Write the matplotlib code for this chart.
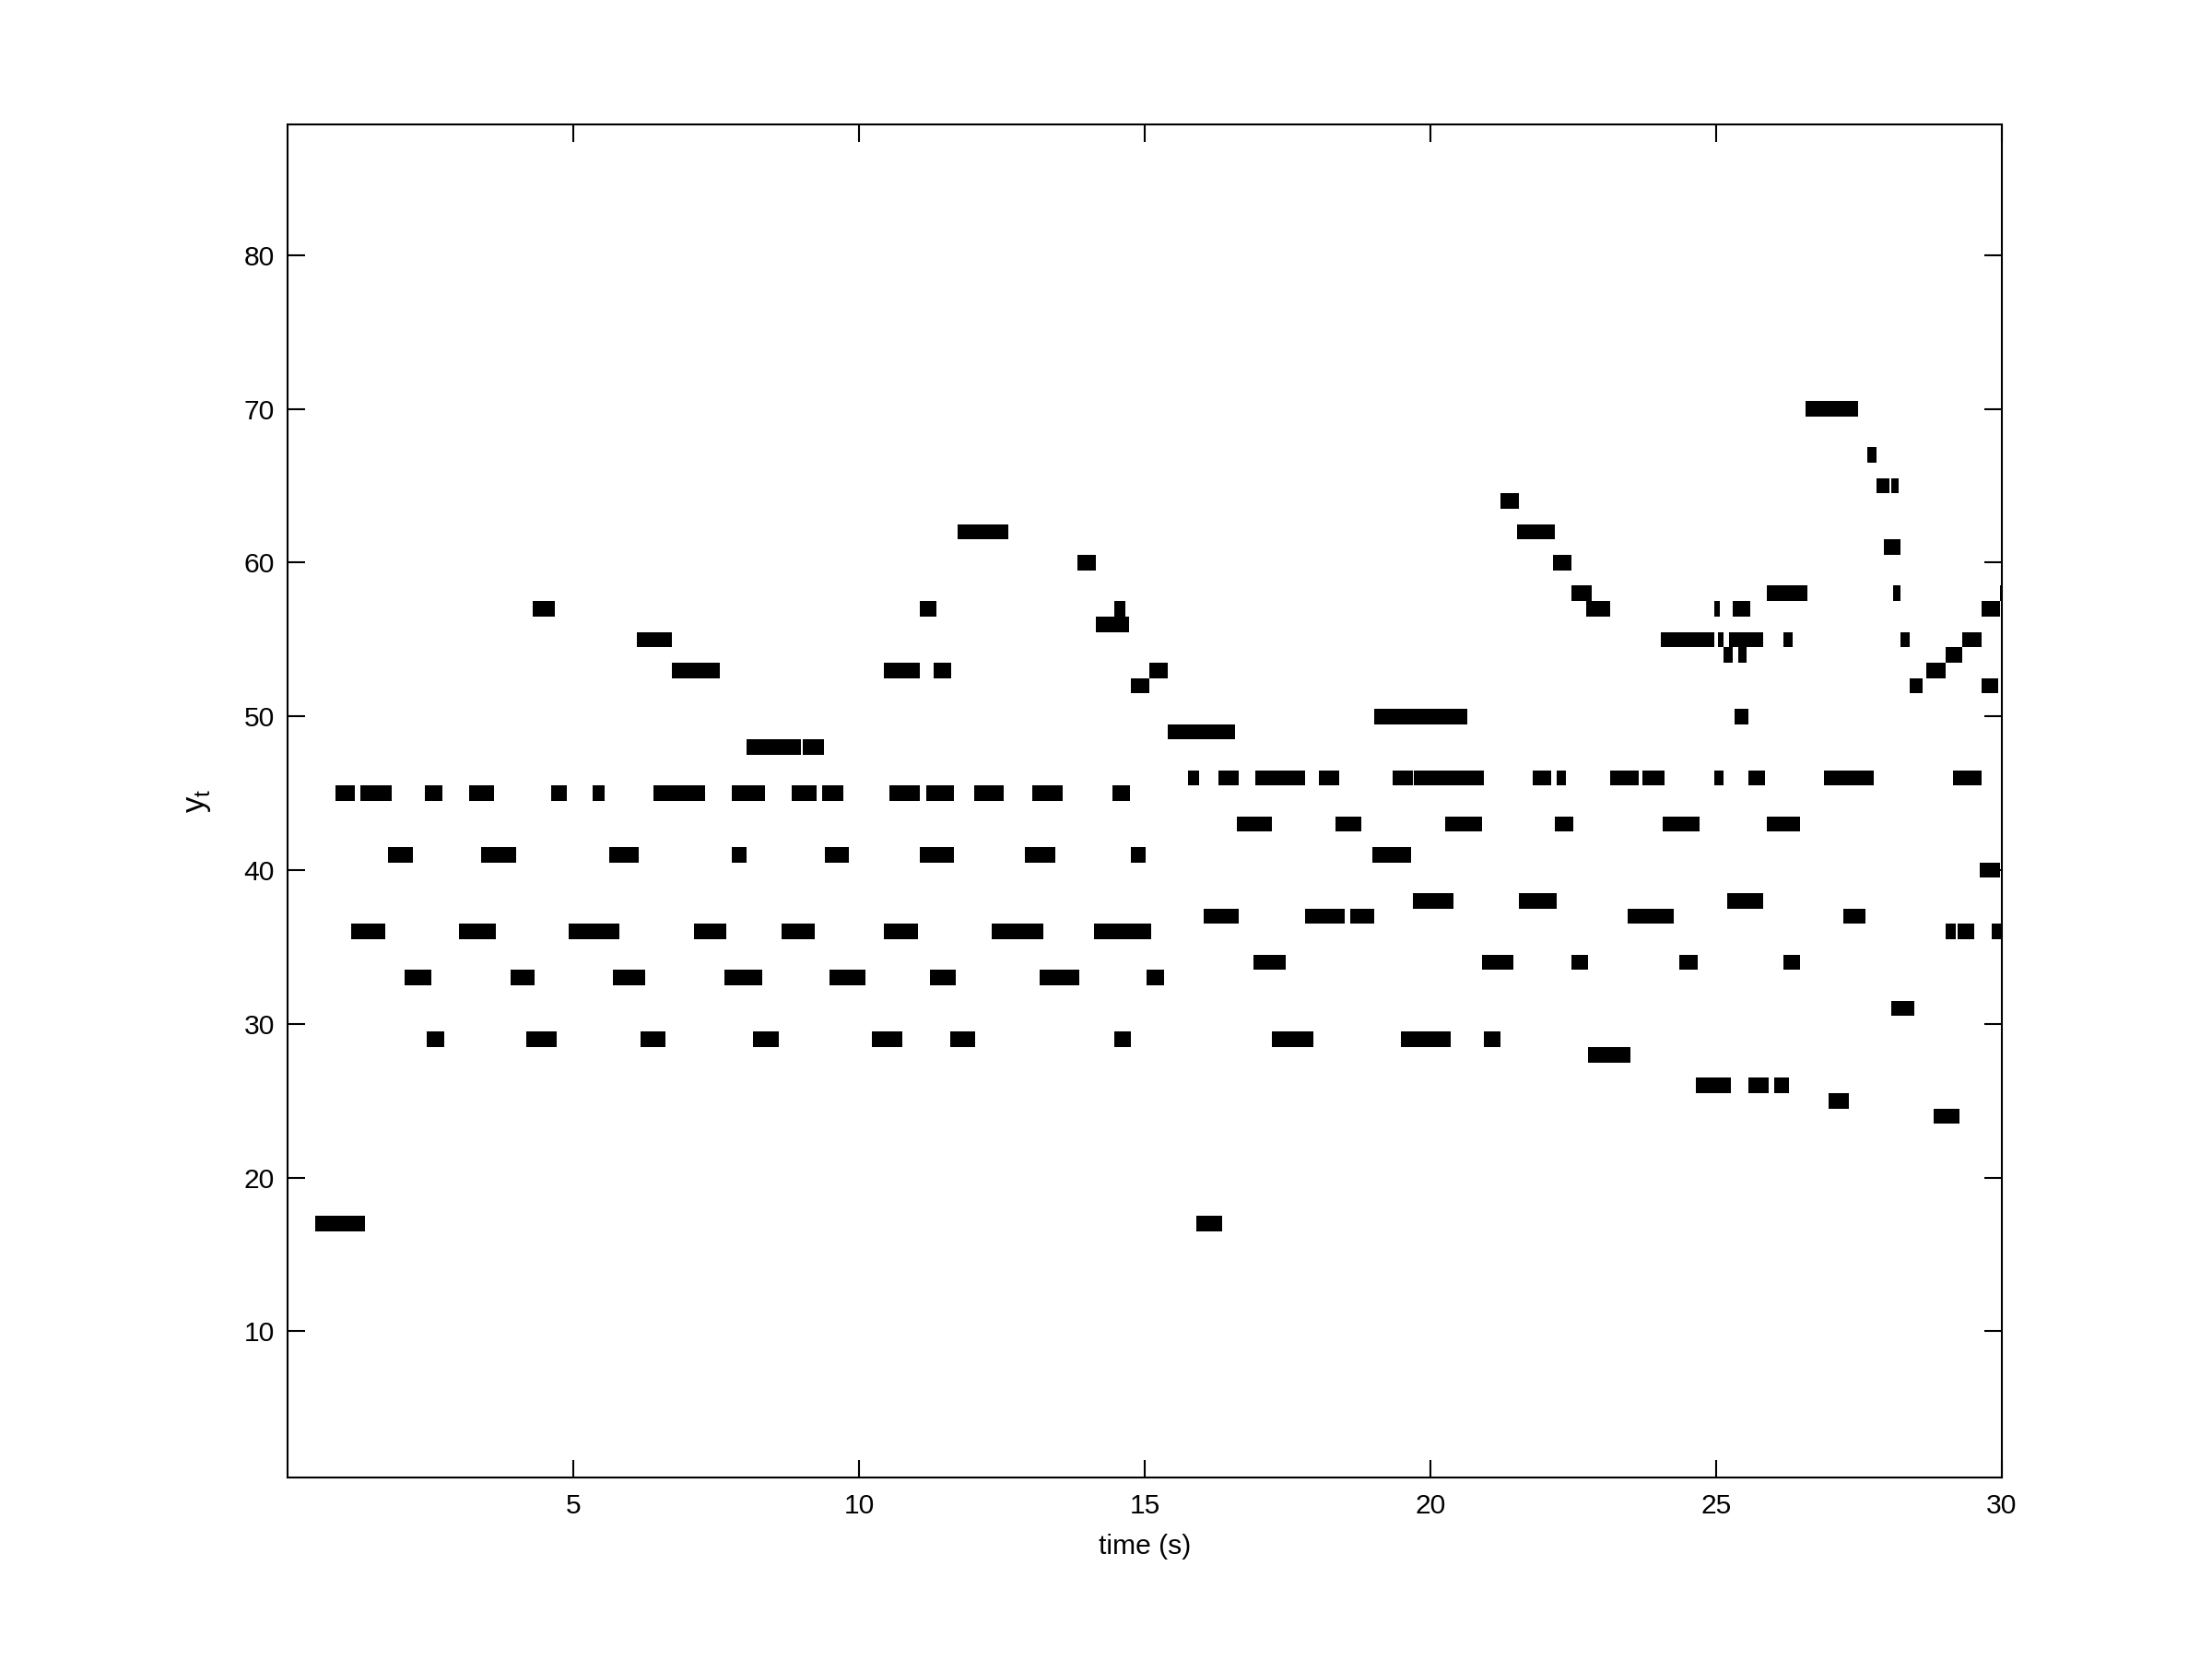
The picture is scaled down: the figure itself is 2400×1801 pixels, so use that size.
import matplotlib
matplotlib.use("Agg")
import matplotlib.pyplot as plt

plt.rcParams["font.family"] = ["Liberation Sans", "DejaVu Sans"]

# piano-roll notes: pitch index, onset (s), offset (s)
note_pitch = (
    [17, 17]
    + [24]
    + [25]
    + [26, 26, 26]
    + [28]
    + [29] * 10
    + [31]
    + [33] * 8
    + [34] * 5
    + [36] * 11
    + [37] * 5
    + [38] * 3
    + [40]
    + [41] * 9
    + [43] * 6
    + [45] * 15
    + [46] * 14
    + [48] * 2
    + [49]
    + [50] * 2
    + [52] * 3
    + [53] * 5
    + [54] * 3
    + [55] * 7
    + [56]
    + [57] * 7
    + [58] * 4
    + [60] * 2
    + [61]
    + [62] * 2
    + [64]
    + [65] * 2
    + [67]
    + [70]
)

note_on = [
    0.48, 15.90,                                             # 17
    28.81,                                                   # 24
    26.97,                                                   # 25
    24.65, 25.57, 26.02,                                     # 26
    22.76,                                                   # 28
    2.44, 4.18, 6.18, 8.15, 10.22, 11.59, 14.46, 17.22, 19.48, 20.94,  # 29
    28.07,                                                   # 31
    2.05, 3.91, 5.70, 7.65, 9.48, 11.24, 13.16, 15.04,       # 33
    16.90, 20.90, 22.47, 24.36, 26.18,                       # 34
    1.11, 3.00, 4.92, 7.12, 8.64, 10.43, 12.32, 14.11, 29.01, 29.22, 29.83,  # 36
    16.03, 17.81, 18.60, 23.45, 27.22,                       # 37
    19.69, 21.55, 25.20,                                     # 38
    29.61,                                                   # 40
    1.76, 3.39, 5.63, 7.78, 9.40, 11.07, 12.90, 14.75, 18.98,  # 41
    16.61, 18.34, 20.26, 22.18, 24.07, 25.89,                # 43
    0.84, 1.28, 2.41, 3.18, 4.62, 5.34, 6.41, 7.77, 8.83, 9.35,
    10.53, 11.17, 12.01, 13.03, 14.43,                       # 45
    15.76, 16.29, 16.93, 18.05, 19.34, 19.71, 21.79, 22.21, 23.15, 23.71,
    24.97, 25.57, 26.89, 29.15,                              # 46
    8.04, 9.02,                                              # 48
    15.40,                                                   # 49
    19.02, 25.33,                                            # 50
    14.75, 28.39, 29.64,                                     # 52
    6.72, 10.43, 11.30, 15.08, 28.68,                        # 53
    25.13, 25.38, 29.01,                                     # 54
    6.12, 24.04, 25.04, 25.23, 26.18, 28.23, 29.31,          # 55
    14.14,                                                   # 56
    4.29, 11.07, 14.46, 22.73, 24.97, 25.29, 29.64,          # 57
    22.47, 25.89, 28.10, 29.96,                              # 58
    13.83, 22.15,                                            # 60
    27.94,                                                   # 61
    11.72, 21.52,                                            # 62
    21.23,                                                   # 64
    27.81, 28.07,                                            # 65
    27.65,                                                   # 67
    26.57,                                                   # 70
]

note_off = [
    1.36, 16.35,
    29.25,
    27.33,
    25.26, 25.92, 26.28,
    23.50,
    2.74, 4.71, 6.62, 8.59, 10.75, 12.04, 14.75, 17.95, 20.36, 21.23,
    28.46,
    2.52, 4.33, 6.26, 8.30, 10.11, 11.69, 13.85, 15.34,
    17.47, 21.45, 22.76, 24.68, 26.47,
    1.71, 3.65, 5.80, 7.68, 9.23, 11.04, 13.22, 15.11, 29.19, 29.51, 29.99,
    16.64, 18.50, 19.02, 24.26, 27.62,
    20.40, 22.21, 25.83,
    29.96,
    2.20, 4.00, 6.15, 8.04, 9.82, 11.66, 13.43, 15.01, 19.66,
    17.22, 18.79, 20.90, 22.50, 24.71, 26.47,
    1.18, 1.82, 2.71, 3.62, 4.88, 5.55, 7.30, 8.36, 9.25, 9.72,
    11.07, 11.66, 12.53, 13.56, 14.75,
    15.95, 16.64, 17.81, 18.40, 19.69, 20.94, 22.11, 22.37, 23.65, 24.10,
    25.13, 25.86, 27.75, 29.64,
    8.99, 9.38,
    16.58,
    20.65, 25.57,
    15.08, 28.62, 29.93,
    7.56, 11.07, 11.62, 15.40, 29.01,
    25.29, 25.54, 29.31,
    6.72, 24.97, 25.13, 25.83, 26.34, 28.39, 29.64,
    14.72,
    4.68, 11.36, 14.66, 23.15, 25.07, 25.60, 29.96,
    22.83, 26.60, 28.23, 30.00,
    14.14, 22.47,
    28.23,
    12.61, 22.18,
    21.55,
    28.04, 28.20,
    27.81,
    27.49,
]

x_ticks = [5, 10, 15, 20, 25, 30]
y_ticks = [10, 20, 30, 40, 50, 60, 70, 80]

fig = plt.figure(figsize=(12, 9.005), dpi=200)
ax = fig.add_axes([0.13, 0.11, 0.775, 0.815])

widths = [b - a for a, b in zip(note_on, note_off)]
ax.barh(note_pitch, widths, left=note_on, height=1.0, color="black",
        linewidth=0, align="center")

ax.set_xlim(0, 30)
ax.set_ylim(0.5, 88.5)
ax.set_xticks(x_ticks)
ax.set_yticks(y_ticks)

for s in ax.spines.values():
    s.set_linewidth(0.75)
ax.tick_params(direction="in", top=True, right=True, length=6.8, width=0.75,
               labelsize=10.8)
ax.tick_params(axis="x", pad=6)
ax.tick_params(axis="y", pad=5)

ax.set_xlabel("time (s)", fontsize=10.8, labelpad=6)
ax.set_ylabel(r"y$_\mathregular{t}$", fontsize=12.5, labelpad=12)

fig.savefig("out.png", dpi=200, facecolor="white")
